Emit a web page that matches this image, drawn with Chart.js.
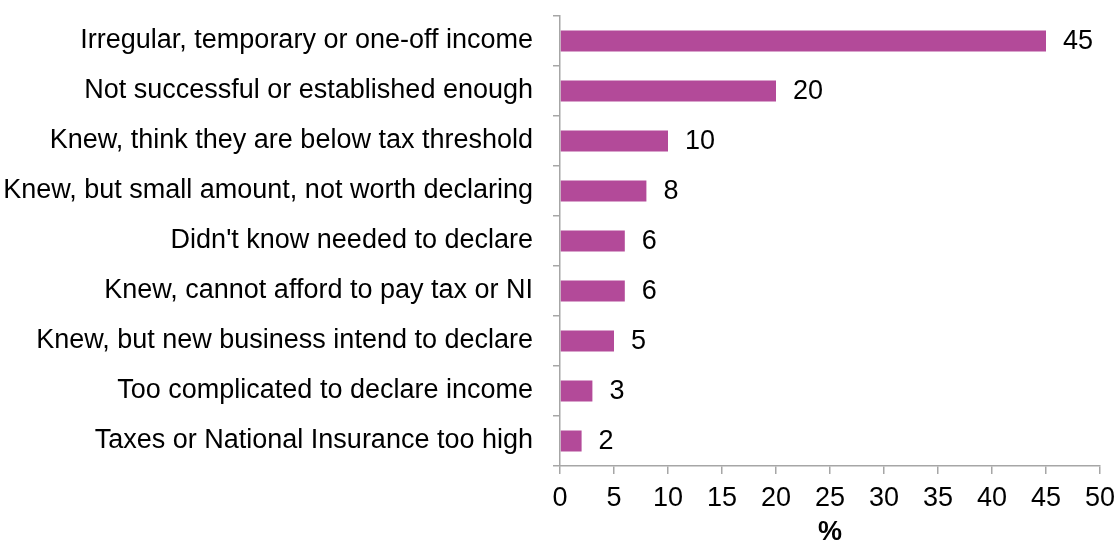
<!DOCTYPE html>
<html>
<head>
<meta charset="utf-8">
<script src="https://cdn.jsdelivr.net/npm/chart.js@4/dist/chart.umd.min.js"></script>
<style>
  html, body { margin: 0; padding: 0; background: #fff; }
  #wrap { width: 1117px; height: 545px; position: relative; }
</style>
</head>
<body>
<div id="wrap"><canvas id="chartReasons"></canvas></div>
<script>
// Reasons for not declaring income (%)
const reasons = [
    'Irregular, temporary or one-off income',
    'Not successful or established enough',
    'Knew, think they are below tax threshold',
    'Knew, but small amount, not worth declaring',
    "Didn't know needed to declare",
    'Knew, cannot afford to pay tax or NI',
    'Knew, but new business intend to declare',
    'Too complicated to declare income',
    'Taxes or National Insurance too high'
];
const percentages = [45, 20, 10, 8, 6, 6, 5, 3, 2];
const xTicks = [0, 5, 10, 15, 20, 25, 30, 35, 40, 45, 50];

const BAR_COLOR = '#b34a99';
const AXIS_COLOR = '#a6a6a6';
const FONT = 'Arial, "Liberation Sans", sans-serif';
const FONT_SIZE = 27;

Chart.defaults.font.family = FONT;
Chart.defaults.font.size = FONT_SIZE;
Chart.defaults.color = '#000';

// Value labels drawn just past the end of each bar
const valueLabels = {
    id: 'valueLabels',
    afterDatasetsDraw(chart) {
        const ctx = chart.ctx;
        const meta = chart.getDatasetMeta(0);
        ctx.save();
        ctx.font = FONT_SIZE + 'px ' + FONT;
        ctx.fillStyle = '#000';
        ctx.textAlign = 'left';
        ctx.textBaseline = 'middle';
        meta.data.forEach((bar, i) => {
            ctx.fillText(String(percentages[i]), bar.x + 17, bar.y + 1);
        });
        ctx.restore();
    }
};

const ctx = document.getElementById('chartReasons').getContext('2d');
const chartReasons = new Chart(ctx, {
    type: 'bar',
    data: {
        labels: reasons,
        datasets: [{
            data: percentages,
            backgroundColor: BAR_COLOR,
            borderWidth: 0,
            categoryPercentage: 1,
            barPercentage: 0.42
        }]
    },
    options: {
        indexAxis: 'y',
        responsive: true,
        maintainAspectRatio: false,
        animation: false,
        layout: { padding: { left: 0, right: 17, top: 16, bottom: 0 } },
        plugins: {
            legend: { display: false },
            tooltip: { enabled: false }
        },
        scales: {
            y: {
                grid: {
                    drawOnChartArea: false,
                    drawTicks: true,
                    tickLength: 7,
                    color: AXIS_COLOR,
                    lineWidth: 1.5
                },
                border: { color: AXIS_COLOR, width: 1.5 },
                ticks: { padding: 20, color: '#000' },
                afterFit: (scale) => {
                    scale.width = 560;
                    scale.paddingTop = 0;
                    scale.paddingBottom = 0;
                }
            },
            x: {
                min: 0,
                max: 50,
                afterBuildTicks: (scale) => {
                    scale.ticks = xTicks.map(v => ({ value: v }));
                },
                grid: {
                    drawOnChartArea: false,
                    drawTicks: true,
                    tickLength: 8,
                    color: AXIS_COLOR,
                    lineWidth: 1.5
                },
                border: { color: AXIS_COLOR, width: 1.5 },
                ticks: { padding: 8, maxRotation: 0, color: '#000' },
                title: {
                    display: true,
                    text: '%',
                    color: '#000',
                    font: { size: FONT_SIZE, weight: 'bold', lineHeight: 0.9 },
                    padding: { top: 2, bottom: 0 }
                },
                afterFit: (scale) => {
                    scale.height = 79;
                    scale.paddingLeft = 0;
                    scale.paddingRight = 0;
                }
            }
        }
    },
    plugins: [valueLabels]
});
</script>
</body>
</html>
